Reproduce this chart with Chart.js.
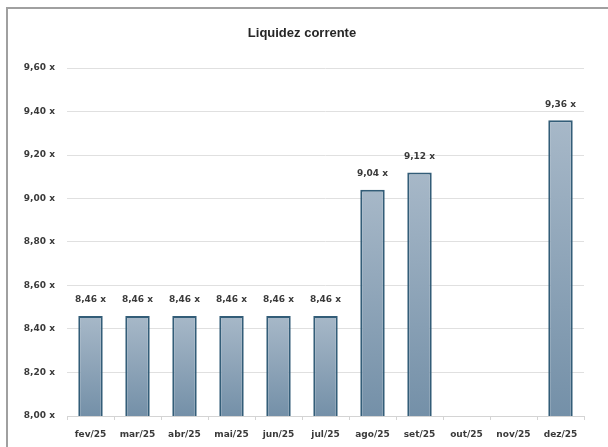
<!DOCTYPE html>
<html>
<head>
<meta charset="utf-8">
<script src="https://cdn.jsdelivr.net/npm/chart.js@4.4.1/dist/chart.umd.min.js"></script>
<style>
  html, body { margin: 0; padding: 0; background: #ffffff; }
  #wrap { width: 608px; height: 447px; }
</style>
</head>
<body>
<div id="wrap"><canvas id="c" width="608" height="447"></canvas></div>
<script>
const categories = ["fev/25", "mar/25", "abr/25", "mai/25", "jun/25", "jul/25", "ago/25", "set/25", "out/25", "nov/25", "dez/25"];
const liquidezCorrente = [8.46, 8.46, 8.46, 8.46, 8.46, 8.46, 9.04, 9.12, null, null, 9.36];
const chartTitle = "Liquidez corrente";
const yMin = 8.0, yMax = 9.6, yStep = 0.2;

const smallFont = '"DejaVu Sans", Arial, sans-serif';

function fmt(v) { return v.toFixed(2).replace('.', ',') + ' x'; }

const framePlugin = {
  id: 'frame',
  beforeDraw(chart) {
    const ctx = chart.ctx;
    ctx.save();
    ctx.fillStyle = '#ffffff';
    ctx.fillRect(0, 0, chart.width, chart.height);
    ctx.strokeStyle = '#a0a0a0';
    ctx.lineWidth = 2;
    ctx.beginPath();
    ctx.moveTo(7, chart.height);
    ctx.lineTo(7, 8);
    ctx.lineTo(chart.width, 8);
    ctx.stroke();
    ctx.fillStyle = '#262626';
    ctx.font = 'bold 13px "Liberation Sans", Arial, sans-serif';
    ctx.textAlign = 'center';
    ctx.textBaseline = 'middle';
    ctx.fillText(chartTitle, 302, 33);
    ctx.restore();
  }
};

const labelPlugin = {
  id: 'valueLabels',
  afterDatasetsDraw(chart) {
    const ctx = chart.ctx;
    const meta = chart.getDatasetMeta(0);
    ctx.save();
    ctx.fillStyle = '#3a3a3a';
    ctx.font = 'bold 9px ' + smallFont;
    ctx.textAlign = 'center';
    ctx.textBaseline = 'middle';
    meta.data.forEach((bar, i) => {
      const v = liquidezCorrente[i];
      if (v === null || v === undefined) return;
      ctx.fillText(fmt(v), bar.x, bar.y - 16);
    });
    ctx.restore();
  }
};

new Chart(document.getElementById('c'), {
  type: 'bar',
  data: {
    labels: categories,
    datasets: [{
      data: liquidezCorrente,
      backgroundColor(context) {
        const chart = context.chart;
        if (!chart.chartArea || !chart.scales.y) return '#8aa0b4';
        const v = context.raw;
        if (v === null || v === undefined) return '#8aa0b4';
        const yS = chart.scales.y;
        const top = yS.getPixelForValue(v);
        const bot = yS.getPixelForValue(yMin);
        const g = chart.ctx.createLinearGradient(0, top, 0, bot);
        g.addColorStop(0, '#a7b8c8');
        g.addColorStop(1, '#7490a8');
        return g;
      },
      borderColor: '#335d78',
      borderWidth: 2,
      borderSkipped: false,
      barPercentage: 0.52,
      categoryPercentage: 1.0
    }]
  },
  options: {
    responsive: false,
    animation: false,
    layout: { padding: { left: 7, right: 24, top: 68, bottom: 0 } },
    plugins: { legend: { display: false }, title: { display: false }, tooltip: { enabled: false } },
    scales: {
      x: {
        afterFit(scale) { scale.height = 31; },
        grid: { offset: true, drawOnChartArea: false, drawTicks: true, tickLength: 4, color: '#d4d4d4' },
        border: { display: true, color: '#d4d4d4', width: 1 },
        ticks: { color: '#3a3a3a', font: { family: smallFont, size: 9, weight: 'bold' }, padding: 9, maxRotation: 0, autoSkip: false }
      },
      y: {
        min: yMin, max: yMax,
        afterFit(scale) { scale.width = 60; },
        grid: { color: '#e0e0e0', drawTicks: false },
        border: { display: false },
        ticks: {
          stepSize: yStep,
          padding: 12,
          color: '#3a3a3a',
          font: { family: smallFont, size: 9, weight: 'bold' },
          callback(v) { return fmt(v); }
        }
      }
    }
  },
  plugins: [framePlugin, labelPlugin]
});
</script>
</body>
</html>
